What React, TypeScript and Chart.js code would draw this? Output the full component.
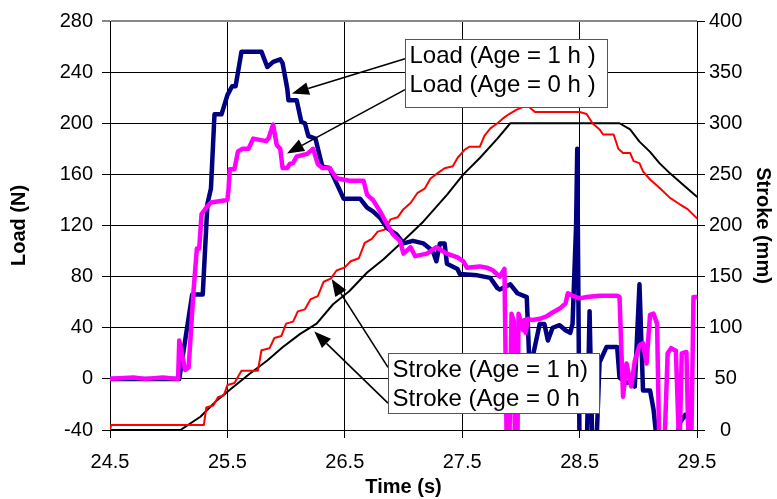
import React, { useEffect, useRef } from "react";
import { Chart, registerables } from "chart.js";

Chart.register(...registerables);

const FONT = "'Liberation Sans', Arial, sans-serif";

const xTicks = [24.5, 25.5, 26.5, 27.5, 28.5, 29.5];

// Load (Age = 1 h) — navy
const load1hTime = [24.5, 24.8, 25.09, 25.2, 25.29, 25.33, 25.36, 25.39, 25.45, 25.5, 25.54, 25.57, 25.62, 25.79, 25.84, 25.89, 25.95, 25.97, 26.01, 26.02, 26.09, 26.13, 26.16, 26.19, 26.25, 26.29, 26.31, 26.37, 26.43, 26.49, 26.63, 26.69, 26.74, 26.8, 26.86, 26.94, 27.0, 27.08, 27.17, 27.25, 27.28, 27.31, 27.35, 27.37, 27.46, 27.48, 27.63, 27.74, 27.8, 27.82, 27.91, 27.97, 28.05, 28.07, 28.1, 28.16, 28.2, 28.23, 28.27, 28.33, 28.38, 28.42, 28.44, 28.47, 28.48, 28.49, 28.5, 28.56, 28.585, 28.61, 28.64, 28.67, 28.73, 28.82, 28.84, 28.9, 28.95, 28.97, 29.01, 29.04, 29.1, 29.13, 29.17, 29.3, 29.35, 29.4, 29.42, 29.45, 29.5];
const load1hValue = [0, 0, 0, 66, 66, 137, 149, 207, 207, 222, 229, 229, 256, 256, 244, 248, 250, 247, 227, 218, 218, 201, 200, 190, 188, 173, 166, 165, 153, 141, 141, 134, 131, 126, 118, 113, 106, 108, 106, 100, 92, 106, 106, 90, 86, 82, 81, 79, 71, 70, 74, 67, 64, 17, 17, 43, 43, 30, 40, 42, 38, 36, 43, 120, 180, 60, -60, -60, 53, -60, -60, 13, 25, 25, 1, -3, -2, -6, 74, -9, -9, -24, -60, -60, -35, -28, -28, -60, -60];

// Load (Age = 0 h) — magenta
const load0hTime = [24.5, 24.7, 24.8, 24.95, 25.08, 25.09, 25.14, 25.17, 25.21, 25.24, 25.26, 25.28, 25.32, 25.36, 25.5, 25.51, 25.52, 25.56, 25.59, 25.63, 25.68, 25.72, 25.83, 25.85, 25.89, 25.92, 25.95, 25.97, 26.01, 26.03, 26.06, 26.09, 26.18, 26.23, 26.27, 26.31, 26.37, 26.43, 26.54, 26.66, 26.69, 26.74, 26.8, 26.86, 26.91, 26.97, 27.0, 27.06, 27.1, 27.2, 27.28, 27.37, 27.46, 27.51, 27.54, 27.65, 27.71, 27.76, 27.82, 27.86, 27.88, 27.9, 27.92, 27.94, 27.95, 27.97, 27.98, 28.02, 28.03, 28.04, 28.06, 28.1, 28.16, 28.22, 28.27, 28.33, 28.38, 28.4, 28.44, 28.5, 28.56, 28.67, 28.82, 28.84, 28.87, 28.9, 28.94, 28.97, 29.01, 29.04, 29.07, 29.1, 29.13, 29.16, 29.18, 29.22, 29.25, 29.28, 29.32, 29.35, 29.37, 29.41, 29.43, 29.45, 29.47, 29.5];
const load0hValue = [0, 1, 0, 1, 0, 30, 7, 9, 67, 102, 102, 129, 134, 138, 140, 149, 164, 164, 178, 180, 180, 188, 186, 188, 199, 183, 180, 165, 165, 168, 169, 174, 176, 180, 168, 165, 165, 157, 155, 155, 144, 140, 131, 121, 113, 108, 98, 103, 96, 98, 103, 98, 95, 92, 87, 88, 87, 85, 80, 86, -60, -60, 51, 45, -60, -60, 51, 38, 46, 36, 47, 46, 47, 49, 52, 55, 59, 67, 65, 63, 64, 65, 65, 64, -14, 12, -6, 14, 26, 28, 12, 50, 51, 43, -60, -60, 20, 24, 22, -60, 20, 21, -60, -60, 64, 64];

// Stroke (Age = 1 h) — red
const stroke1hTime = [24.5, 24.51, 25.3, 25.32, 25.38, 25.42, 25.47, 25.5, 25.56, 25.62, 25.76, 25.79, 25.86, 25.9, 25.96, 26.0, 26.06, 26.1, 26.16, 26.21, 26.27, 26.32, 26.38, 26.43, 26.5, 26.55, 26.62, 26.67, 26.73, 26.78, 26.84, 26.89, 26.95, 27.0, 27.06, 27.12, 27.18, 27.23, 27.3, 27.35, 27.42, 27.46, 27.52, 27.56, 27.65, 27.69, 27.74, 27.8, 27.85, 27.9, 27.96, 28.02, 28.07, 28.12, 28.5, 28.56, 28.61, 28.67, 28.7, 28.79, 28.83, 28.87, 28.93, 28.96, 29.01, 29.04, 29.1, 29.18, 29.27, 29.35, 29.42, 29.5];
const stroke1hValue = [0, 5, 5, 22, 24, 32, 34, 44, 46, 58, 58, 78, 80, 90, 92, 104, 106, 116, 118, 128, 131, 145, 148, 156, 159, 165, 168, 183, 187, 194, 196, 206, 208, 216, 222, 232, 236, 246, 252, 256, 258, 266, 274, 277, 277, 288, 295, 300, 305, 309, 313, 316, 316, 311, 311, 309, 300, 294, 289, 289, 275, 271, 271, 263, 261, 253, 245, 237, 227, 221, 216, 207];

// Stroke (Age = 0 h) — black
const stroke0hTime = [24.5, 25.1, 25.27, 25.41, 25.55, 25.69, 25.84, 25.97, 26.12, 26.26, 26.4, 26.54, 26.69, 26.83, 26.97, 27.17, 27.37, 27.51, 27.65, 27.8, 27.91, 28.84, 28.93, 29.01, 29.1, 29.18, 29.27, 29.35, 29.44, 29.5];
const stroke0hValue = [0, 0, 13, 29, 42, 55, 68, 81, 94, 104, 123, 136, 154, 167, 182, 204, 230, 250, 266, 285, 300, 300, 294, 282, 272, 261, 251, 243, 234, 228];

// Callout boxes (positions in time / load units)
const loadBoxLines = ["Load (Age = 1 h )", "Load (Age = 0 h )"];
const loadBoxCorner = [27.013, 266.0, 28.733, 213.0];
const loadArrowFrom = [[27.013, 250.4], [27.013, 226.3]];
const loadArrowTo = [[26.05, 223.2], [26.008, 176.4]];

const strokeBoxLines = ["Stroke (Age = 1 h)", "Stroke (Age = 0 h"];
const strokeBoxCorner = [26.868, 20.0, 28.665, -26.8];
const strokeArrowFrom = [[26.868, 9.0], [26.868, -19.0]];
const strokeArrowTo = [[26.388, 78.1], [26.24, 37.1]];

const toPoints = (t: number[], v: number[]) => t.map((x, i) => ({ x, y: v[i] }));

const callouts = [
  { lines: loadBoxLines, corner: loadBoxCorner, from: loadArrowFrom, to: loadArrowTo },
  { lines: strokeBoxLines, corner: strokeBoxCorner, from: strokeArrowFrom, to: strokeArrowTo },
];

const calloutPlugin = {
  id: "callouts",
  afterDatasetsDraw(chart: any) {
    const { ctx } = chart;
    const xs = chart.scales.x;
    const ys = chart.scales.y;
    ctx.save();
    for (const c of callouts) {
      for (let i = 0; i < c.from.length; i++) {
        const x0 = xs.getPixelForValue(c.from[i][0]);
        const y0 = ys.getPixelForValue(c.from[i][1]);
        const x1 = xs.getPixelForValue(c.to[i][0]);
        const y1 = ys.getPixelForValue(c.to[i][1]);
        const ang = Math.atan2(y1 - y0, x1 - x0);
        const len = 17;
        const hw = 6.5;
        const bx = x1 - len * Math.cos(ang);
        const by = y1 - len * Math.sin(ang);
        ctx.strokeStyle = "#000";
        ctx.lineWidth = 1.6;
        ctx.beginPath();
        ctx.moveTo(x0, y0);
        ctx.lineTo(bx, by);
        ctx.stroke();
        ctx.fillStyle = "#000";
        ctx.beginPath();
        ctx.moveTo(x1, y1);
        ctx.lineTo(bx + hw * Math.sin(ang), by - hw * Math.cos(ang));
        ctx.lineTo(bx - hw * Math.sin(ang), by + hw * Math.cos(ang));
        ctx.closePath();
        ctx.fill();
      }
      const left = Math.round(xs.getPixelForValue(c.corner[0])) + 0.5;
      const top = Math.round(ys.getPixelForValue(c.corner[1])) + 0.5;
      const right = Math.round(xs.getPixelForValue(c.corner[2])) + 0.5;
      const bottom = Math.round(ys.getPixelForValue(c.corner[3])) + 0.5;
      ctx.fillStyle = "#fff";
      ctx.fillRect(left, top, right - left, bottom - top);
      ctx.strokeStyle = "#555";
      ctx.lineWidth = 1;
      ctx.strokeRect(left, top, right - left, bottom - top);
      ctx.fillStyle = "#000";
      ctx.font = `24px ${FONT}`;
      ctx.textAlign = "left";
      ctx.textBaseline = "alphabetic";
      c.lines.forEach((s: string, i: number) => {
        ctx.fillText(s, left + 4, top + 23 + i * 29);
      });
    }
    ctx.restore();
  },
};

export default function App() {
  const ref = useRef<HTMLCanvasElement | null>(null);
  useEffect(() => {
    if (!ref.current) return;
    const tickFont = { family: FONT, size: 20 };
    const titleFont = { family: FONT, size: 20, weight: "bold" as const };
    const chart = new Chart(ref.current, {
      type: "line",
      data: {
        datasets: [
          {
            label: "Load (Age = 0 h)",
            data: toPoints(load0hTime, load0hValue),
            borderColor: "#FF00FF",
            borderWidth: 4.5,
            yAxisID: "y",
            order: 1,
          },
          {
            label: "Load (Age = 1 h)",
            data: toPoints(load1hTime, load1hValue),
            borderColor: "#000080",
            borderWidth: 4.5,
            yAxisID: "y",
            order: 2,
          },
          {
            label: "Stroke (Age = 1 h)",
            data: toPoints(stroke1hTime, stroke1hValue),
            borderColor: "#FF0000",
            borderWidth: 2,
            yAxisID: "y2",
            order: 3,
          },
          {
            label: "Stroke (Age = 0 h)",
            data: toPoints(stroke0hTime, stroke0hValue),
            borderColor: "#000000",
            borderWidth: 2,
            yAxisID: "y2",
            order: 4,
          },
        ],
      },
      options: {
        animation: false,
        responsive: false,
        maintainAspectRatio: false,
        layout: { padding: { left: 0, right: 0, top: 19, bottom: 0 } },
        elements: { point: { radius: 0 }, line: { tension: 0, borderJoinStyle: "round", borderCapStyle: "round" } },
        plugins: { legend: { display: false }, tooltip: { enabled: false } },
        scales: {
          x: {
            type: "linear",
            min: 24.5,
            max: 29.5,
            afterBuildTicks: (s: any) => {
              s.ticks = xTicks.map((v) => ({ value: v }));
            },
            afterFit: (s: any) => {
              s.height = 69;
            },
            ticks: {
              font: tickFont,
              color: "#000",
              padding: 12,
              maxRotation: 0,
              autoSkip: false,
              callback: (v: any) => Number(v).toFixed(1),
            },
            grid: { color: "#000", lineWidth: 1, tickLength: 8 },
            border: { color: "#000", width: 1 },
            title: { display: true, text: "Time (s)", font: titleFont, color: "#000", padding: { top: 0, bottom: 0 } },
          },
          y: {
            position: "left",
            min: -40,
            max: 280,
            ticks: { stepSize: 40, font: tickFont, color: "#000", padding: 9 },
            afterFit: (s: any) => {
              s.width = 110;
            },
            grid: {
              color: (ctx: any) => (ctx.tick && ctx.tick.value === 280 ? "#888" : "#000"),
              lineWidth: (ctx: any) => (ctx.tick && ctx.tick.value === 280 ? 2 : 1),
              tickLength: 8,
            },
            border: { color: "#000", width: 1 },
            title: { display: true, text: "Load (N)", font: titleFont, color: "#000", padding: { top: 7, bottom: 0 } },
          },
          y2: {
            position: "right",
            min: 0,
            max: 400,
            ticks: { stepSize: 50, font: tickFont, color: "#000", padding: 4, crossAlign: "center" },
            afterFit: (s: any) => {
              s.width = 80;
            },
            grid: { drawOnChartArea: false, color: "#000", tickLength: 8 },
            border: { color: "#000", width: 1 },
            title: { display: true, text: "Stroke (mm)", font: titleFont, color: "#000", padding: { top: 2, bottom: 0 } },
          },
        },
      },
      plugins: [calloutPlugin],
    } as any);
    return () => chart.destroy();
  }, []);
  return (
    <div style={{ position: "absolute", left: 0, top: 0, width: 777, height: 499, background: "#fff" }}>
      <canvas ref={ref} width={777} height={499} style={{ width: 777, height: 499, display: "block" }} />
    </div>
  );
}
